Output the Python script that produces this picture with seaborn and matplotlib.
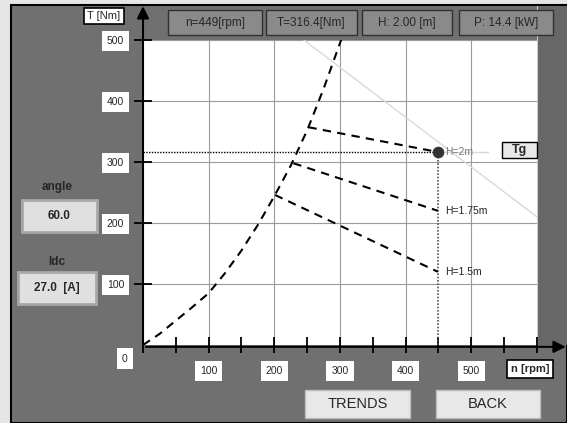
import matplotlib
matplotlib.use("Agg")
import matplotlib.pyplot as plt
from matplotlib.patches import Rectangle
import pandas as pd
import seaborn as sns

# load curve (dashed parabola-like line)
n_load = [0, 25, 50, 75, 100, 125, 150, 175, 200, 225, 250, 275, 300, 305]
T_load = [0, 18, 40, 62, 85, 118, 155, 197, 244, 294, 352, 420, 495, 510]

# H curves
h_labels = ["H=2m", "H=1.75m", "H=1.5m"]
h_start_n = [252, 229, 201]
h_start_T = [357, 298, 246]
h_end_n = [449, 449, 449]
h_end_T = [316.4, 220, 120]

# operating point and tangent
op_n = 449
op_T = 316.4
tg_n = [245, 600]
tg_T = [500, 210]

x_major = [100, 200, 300, 400, 500]
x_minor = [0, 50, 150, 250, 350, 450, 550, 600]
y_major = [100, 200, 300, 400, 500]

info = ["n=449[rpm]", "T=316.4[Nm]", "H: 2.00 [m]", "P: 14.4 [kW]"]
info_x = [168, 266, 362, 459]
info_w = [94, 91, 90, 94]

W, H = 567, 423
GRAY = "#707070"


def fx(px):
    return px / W


def fy(py):
    return 1 - py / H


def box(fig, x0, y0, x1, y1, fc, ec="none", lw=1.0, z=-2):
    fig.patches.append(Rectangle((fx(x0), fy(y1)), (x1 - x0) / W, (y1 - y0) / H,
                                 transform=fig.transFigure, facecolor=fc,
                                 edgecolor=ec, linewidth=lw, zorder=z))


def main():
    sns.set_style("white")
    plt.rcParams["font.family"] = ["Liberation Sans", "DejaVu Sans"]

    fig = plt.figure(figsize=(5.67, 4.23), dpi=100, facecolor="#e6e6e6")

    # window background
    box(fig, 11, 5, 567, 423, GRAY, ec="black", lw=1.5, z=-5)
    box(fig, 537, 6, 567, 345, "#676767", z=-4)
    fig.lines.append(plt.Line2D([fx(536.5), fx(536.5)], [fy(6), fy(345)],
                                transform=fig.transFigure, color="#c8c8c8", lw=0.8,
                                zorder=-3))

    # top info boxes
    for txt, x0, w in zip(info, info_x, info_w):
        box(fig, x0, 10, x0 + w, 35, "#8a8a8a", ec="#303030", lw=1.0)
        fig.text(fx(x0 + w / 2), fy(23), txt, ha="center", va="center", fontsize=8.5)

    # left panel
    fig.text(fx(57), fy(187), "angle", ha="center", va="center", fontsize=8.5, fontweight="bold")
    box(fig, 22, 200, 97, 232, "#e0e0e0", ec="#a8a8a8", lw=2)
    fig.text(fx(59), fy(216), "60.0", ha="center", va="center", fontsize=8.5, fontweight="bold")
    fig.text(fx(57), fy(262), "Idc", ha="center", va="center", fontsize=8.5, fontweight="bold")
    box(fig, 18, 272, 96, 304, "#e0e0e0", ec="#a8a8a8", lw=2)
    fig.text(fx(57), fy(288), "27.0  [A]", ha="center", va="center", fontsize=8.5, fontweight="bold")

    # buttons
    for label, x0, x1 in [("TRENDS", 305, 410), ("BACK", 436, 540)]:
        box(fig, x0, 390, x1, 418, "#e8e8e8", ec="#bdbdbd", lw=1)
        fig.text(fx((x0 + x1) / 2), fy(404), label, ha="center", va="center", fontsize=10.5)

    ax = fig.add_axes([fx(143), fy(345), (537 - 143) / W, (345 - 40) / H])
    ax.set_zorder(1)
    ax.set_facecolor("white")
    ax.set_xlim(0, 600)
    ax.set_ylim(0, 500)
    for s in ax.spines.values():
        s.set_visible(False)

    ax.set_xticks(x_major)
    ax.set_xticks(x_minor, minor=True)
    ax.set_yticks(y_major)
    ax.grid(True, which="major", color="#9a9a9a", lw=0.8)
    ax.tick_params(axis="x", which="both", bottom=True, direction="inout", length=12,
                   width=1.3, color="black", pad=9, labelsize=7.5)
    ax.tick_params(axis="y", which="both", left=True, direction="inout", length=13,
                   width=1.3, color="black", pad=7, labelsize=7.5)
    for t in ax.get_xticklabels() + ax.get_yticklabels():
        t.set_bbox(dict(facecolor="white", edgecolor="none", pad=3.5))
    ax.annotate("0", xy=(0, 0), xytext=(-13, -10), textcoords="offset points",
                ha="center", va="center", fontsize=7.5, annotation_clip=False,
                bbox=dict(facecolor="white", edgecolor="none", pad=4))

    # tangent (light)
    sns.lineplot(x=tg_n, y=tg_T, ax=ax, color="#d9d9d9", lw=1, estimator=None, sort=False)
    sns.lineplot(x=[op_n, 525], y=[op_T, op_T], ax=ax, color="#d9d9d9", lw=1,
                 estimator=None, sort=False)

    # operating point guides
    ax.plot([0, op_n], [op_T, op_T], color="black", lw=1, linestyle=(0, (1, 1)))
    ax.plot([op_n, op_n], [0, op_T], color="#555555", lw=1.2, linestyle=(0, (1, 1)))

    # load curve
    df_load = pd.DataFrame({"n": n_load, "T": T_load})
    sns.lineplot(data=df_load, x="n", y="T", ax=ax, color="black", lw=1.5,
                 linestyle=(0, (4, 3)), estimator=None, sort=False)

    # H curves
    for lab, n0, t0, n1, t1 in zip(h_labels, h_start_n, h_start_T, h_end_n, h_end_T):
        sns.lineplot(x=[n0, n1], y=[t0, t1], ax=ax, color="black", lw=1.5,
                     linestyle=(0, (4, 3)), estimator=None, sort=False)
        ax.text(n1 + 11, t1, lab, fontsize=7.5, va="center",
                color="#777777" if lab == "H=2m" else "#222222")

    sns.scatterplot(x=[op_n], y=[op_T], ax=ax, color="#333333", s=60, zorder=5,
                    edgecolor="#333333")

    ax.set_xlabel("")
    ax.set_ylabel("")

    # arrows
    ax.annotate("", xy=(1.08, -0.006), xycoords="axes fraction", xytext=(0, -0.006),
                arrowprops=dict(arrowstyle="-|>", color="black", lw=1.5, mutation_scale=18),
                annotation_clip=False)
    ax.annotate("", xy=(0, 1.12), xycoords="axes fraction", xytext=(0, -0.006),
                arrowprops=dict(arrowstyle="-|>", color="black", lw=1.5, mutation_scale=18),
                annotation_clip=False)

    # axis name boxes
    fig.text(fx(530), fy(369), "n [rpm]", ha="center", va="center", fontsize=8,
             fontweight="bold", zorder=5,
             bbox=dict(facecolor="white", edgecolor="black", lw=1.2, pad=3))
    fig.text(fx(104), fy(16), "T [Nm]", ha="center", va="center", fontsize=8, zorder=5,
             bbox=dict(facecolor="white", edgecolor="black", lw=1.2, pad=2.5))
    box(fig, 502, 142, 537, 158, "#e8e8e8", ec="black", lw=1, z=6)
    fig.text(fx(519.5), fy(150), "Tg", ha="center", va="center", fontsize=9,
             fontweight="bold", zorder=7)

    fig.savefig("out.png", dpi=100, facecolor=fig.get_facecolor())


if __name__ == "__main__":
    main()
